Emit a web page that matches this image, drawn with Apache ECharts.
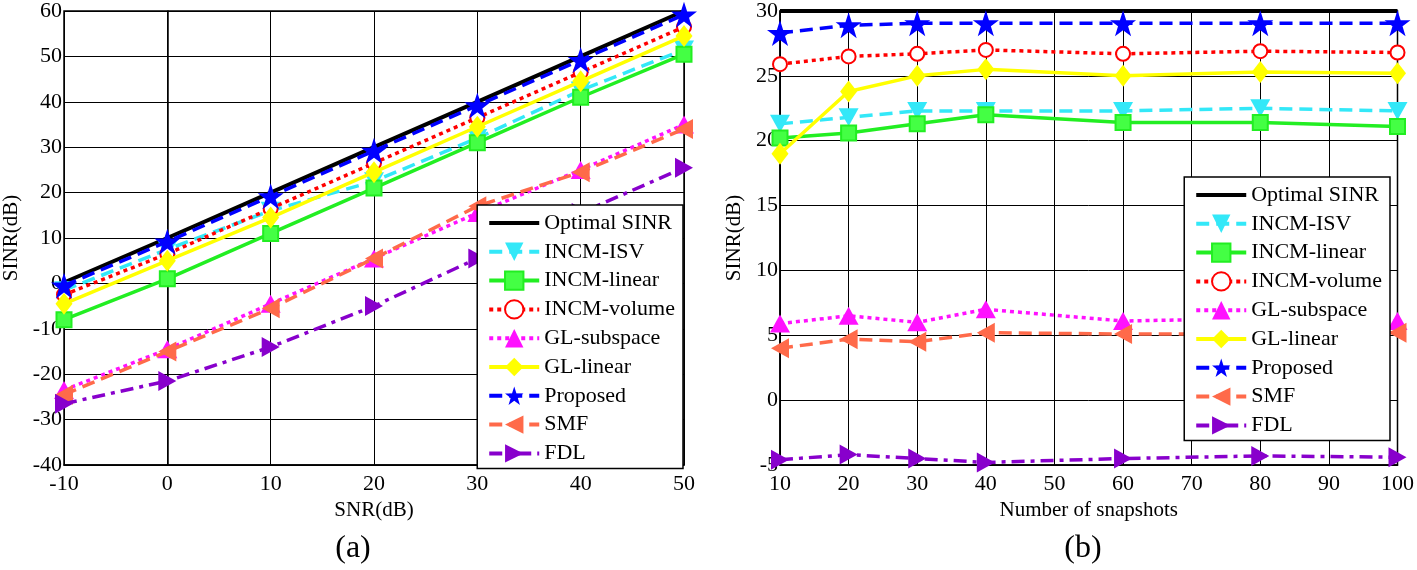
<!DOCTYPE html>
<html>
<head>
<meta charset="utf-8">
<script src="https://cdn.jsdelivr.net/npm/echarts@6/dist/echarts.min.js"></script>
<style>
html,body{margin:0;padding:0;background:#fff;}
#chart{width:1417px;height:570px;}
</style>
</head>
<body>
<div id="chart"></div>
<script>
// ---- data ----
const names = ['Optimal SINR','INCM-ISV','INCM-linear','INCM-volume','GL-subspace','GL-linear','Proposed','SMF','FDL'];

// (a) SINR vs SNR
const snrX = [-10, 0, 10, 20, 30, 40, 50];
const optA  = [0.2, 10, 20, 30, 40, 50, 60];
const isvA  = [-1.5, 7.5, 16, 22.5, 32, 42.5, 51.5];
const linA  = [-8, 1, 11, 21, 31, 41, 50.5];
const volA  = [-2.5, 6.5, 16.5, 26.5, 36.5, 46.5, 56.5];
const gsubA = [-23.5, -14.5, -4.5, 5.5, 15.5, 25, 35];
const glinA = [-4.5, 5, 14.5, 24.5, 34.5, 44.5, 54.5];
const propA = [-0.5, 9.2, 19.2, 29.2, 39.2, 49.2, 59.2];
const smfA  = [-24.5, -15, -5.5, 5.5, 17, 24.5, 34];
const fdlA  = [-26.5, -21.5, -14, -5, 5.5, 15.5, 25.5];

// (b) SINR vs number of snapshots
const snapX = [10, 20, 30, 40, 60, 80, 100];
const optB  = [30, 30, 30, 30, 30, 30, 30];
const isvB  = [21.3, 21.8, 22.3, 22.3, 22.3, 22.5, 22.3];
const linB  = [20.2, 20.6, 21.3, 22.0, 21.4, 21.4, 21.1];
const volB  = [25.9, 26.5, 26.7, 27.0, 26.7, 26.9, 26.8];
const gsubB = [5.9, 6.5, 6.0, 7.0, 6.1, 6.3, 6.1];
const glinB = [19.0, 23.8, 25.0, 25.5, 25.0, 25.3, 25.2];
const propB = [28.3, 28.9, 29.05, 29.05, 29.05, 29.05, 29.05];
const smfB  = [4.0, 4.7, 4.5, 5.2, 5.1, 5.1, 5.2];
const fdlB  = [-4.6, -4.2, -4.5, -4.8, -4.5, -4.3, -4.4];

const xTicksA = {min: -10, max: 50, interval: 10};
const yTicksA = {min: -40, max: 60, interval: 10};
const xTicksB = {min: 10, max: 100, interval: 10};
const yTicksB = {min: -5, max: 30, interval: 5};

// ---- styles ----
const STAR = 'path://M50,0 L61.8,35.2 L98.8,35.2 L68.9,57 L80.3,92.4 L50,70.5 L19.7,92.4 L31.1,57 L1.2,35.2 L38.2,35.2 Z';
const TRI_DOWN = 'path://M0,0 L10,0 L5,9 Z';
const TRI_UP = 'path://M5,0 L10,9 L0,9 Z';
const TRI_LEFT = 'path://M9,0 L9,10 L0,5 Z';
const TRI_RIGHT = 'path://M0,0 L0,10 L9,5 Z';
const DASH = [13, 7];
const DOT = [4, 4];
const DASHDOT = [13, 6, 4, 6];

const styles = [
  {color:'#000000', type:'solid', symbol:'none', size:0, width:4},
  {color:'#33E8F8', type:DASH, symbol:TRI_DOWN, size:[20,18]},
  {color:'#22EE22', type:'solid', symbol:'rect', size:15, fill:'#44FF44'},
  {color:'#FF0000', type:DOT, symbol:'emptyCircle', size:14},
  {color:'#FF11FF', type:DOT, symbol:TRI_UP, size:[20,18]},
  {color:'#FFFF00', type:'solid', symbol:'diamond', size:[17,22]},
  {color:'#0000FF', type:DASH, symbol:STAR, size:26},
  {color:'#FF6A4A', type:DASH, symbol:TRI_LEFT, size:[18,20]},
  {color:'#8800CC', type:DASHDOT, symbol:TRI_RIGHT, size:[18,20]}
];

const dataA = [optA, isvA, linA, volA, gsubA, glinA, propA, smfA, fdlA];
const dataB = [optB, isvB, linB, volB, gsubB, glinB, propB, smfB, fdlB];

const FONT = 'Liberation Serif';

function makeSeries(idx, xs, ys, gi) {
  const s = styles[idx];
  return {
    name: names[idx],
    type: 'line',
    xAxisIndex: gi, yAxisIndex: gi,
    data: xs.map((x, i) => [x, ys[i]]),
    symbol: s.symbol,
    symbolSize: s.size,
    showSymbol: s.symbol !== 'none',
    lineStyle: {color: s.color, width: s.width || 3.5, type: s.type},
    itemStyle: {color: s.fill || s.color, borderColor: s.color, borderWidth: s.symbol === 'emptyCircle' ? 4 : (s.fill ? 2 : 0)},
    animation: false,
    z: 2 + idx
  };
}

const series = [];
for (let i = 0; i < names.length; i++) series.push(makeSeries(i, snrX, dataA[i], 0));
for (let i = 0; i < names.length; i++) series.push(makeSeries(i, snapX, dataB[i], 1));

function xAxis(gi, t, name) {
  return {
    type: 'value', gridIndex: gi, min: t.min, max: t.max, interval: t.interval,
    name: name, nameLocation: 'middle', nameGap: 33,
    nameTextStyle: {fontFamily: FONT, fontSize: 21, color: '#000'},
    axisLine: {show: true, onZero: false, lineStyle: {color: '#000', width: 1.5}},
    axisTick: {show: false},
    axisLabel: {fontFamily: FONT, fontSize: 22, color: '#000', margin: 8},
    splitLine: {show: true, lineStyle: {color: '#000', width: 1}}
  };
}
function yAxis(gi, t, gap) {
  return {
    type: 'value', gridIndex: gi, min: t.min, max: t.max, interval: t.interval,
    name: 'SINR(dB)', nameLocation: 'middle', nameGap: gap, nameRotate: 90,
    nameTextStyle: {fontFamily: FONT, fontSize: 21, color: '#000'},
    axisLine: {show: true, lineStyle: {color: '#000', width: 1.5}},
    axisTick: {show: false},
    axisLabel: {fontFamily: FONT, fontSize: 22, color: '#000', margin: 2},
    splitLine: {show: true, lineStyle: {color: '#000', width: 1}}
  };
}

function legendData() {
  return names.map((n, i) => i === 0
    ? {name: n, itemStyle: {color: 'rgba(0,0,0,0)', borderWidth: 0, opacity: 0}}
    : {name: n});
}

function legend(right, top) {
  return {
    orient: 'vertical', right: right, top: top,
    data: legendData(),
    backgroundColor: '#fff', borderColor: '#000', borderWidth: 1.5, borderRadius: 0,
    padding: [7, 8, 4, 10],
    itemWidth: 50, itemHeight: 23, itemGap: 6.8,
    lineStyle: {width: 4},
    textStyle: {fontFamily: FONT, fontSize: 22, color: '#000'},
    selectedMode: false,
    z: 20
  };
}

const chart = echarts.init(document.getElementById('chart'), null, {renderer: 'canvas'});
chart.setOption({
  animation: false,
  backgroundColor: '#fff',
  textStyle: {fontFamily: FONT},
  title: [
    {text: '(a)', left: 348, top: 528, textAlign: 'center', textStyle: {fontFamily: FONT, fontSize: 32, fontWeight: 'normal', color: '#000'}},
    {text: '(b)', left: 1078, top: 528, textAlign: 'center', textStyle: {fontFamily: FONT, fontSize: 32, fontWeight: 'normal', color: '#000'}}
  ],
  grid: [
    {left: 64, top: 8, width: 620, height: 457, show: true, borderColor: '#000', borderWidth: 1.5, backgroundColor: 'transparent'},
    {left: 780, top: 8, width: 620, height: 457, show: true, borderColor: '#000', borderWidth: 1.5, backgroundColor: 'transparent'}
  ],
  xAxis: [xAxis(0, xTicksA, 'SNR(dB)'), xAxis(1, xTicksB, 'Number of snapshots')],
  yAxis: [yAxis(0, yTicksA, 42), yAxis(1, yTicksB, 35)],
  legend: [legend(1417 - 683, 205), legend(1417 - 1390, 177)],
  series: series
});
</script>
</body>
</html>
